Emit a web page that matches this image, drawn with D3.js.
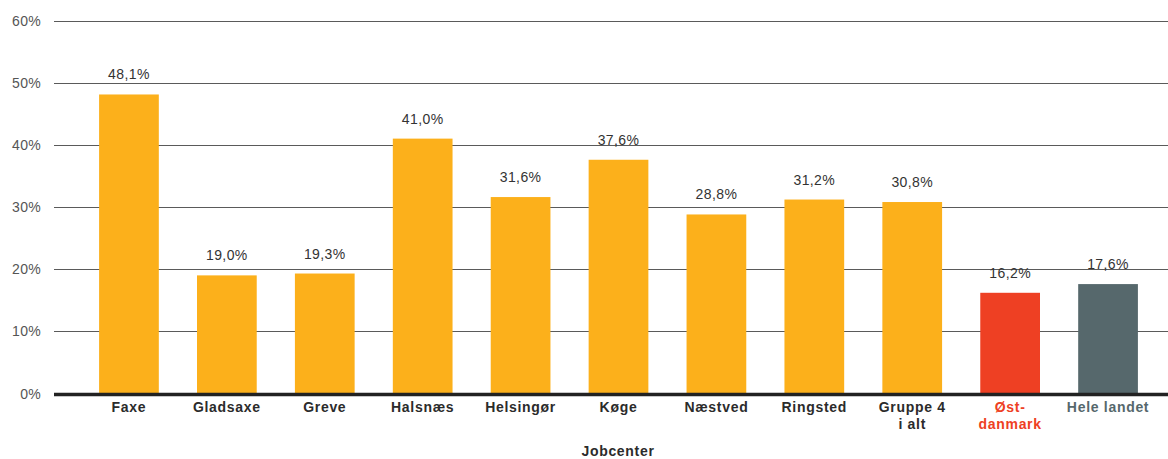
<!DOCTYPE html>
<html lang="da">
<head>
<meta charset="UTF-8">
<script src="https://d3js.org/d3.v7.min.js"></script>
<style>
  body { margin: 0; background: #fff; }
  svg text { font-family: "Liberation Sans", Arial, sans-serif; }
</style>
</head>
<body>
<div id="chart"></div>
<script>
// data
const categories = ["Faxe", "Gladsaxe", "Greve", "Halsnæs", "Helsingør", "Køge", "Næstved", "Ringsted", "Gruppe 4|i alt", "Øst-|danmark", "Hele landet"];
const values = [48.1, 19.0, 19.3, 41.0, 31.6, 37.6, 28.8, 31.2, 30.8, 16.2, 17.6];
const barColors = ["#fcb01b", "#fcb01b", "#fcb01b", "#fcb01b", "#fcb01b", "#fcb01b", "#fcb01b", "#fcb01b", "#fcb01b", "#ee4023", "#56686c"];
const labelColors = ["#2b2b2b", "#2b2b2b", "#2b2b2b", "#2b2b2b", "#2b2b2b", "#2b2b2b", "#2b2b2b", "#2b2b2b", "#2b2b2b", "#ee4023", "#56686c"];
const yTicks = [0, 10, 20, 30, 40, 50, 60];

const W = 1168, H = 459;
const svg = d3.select("#chart").append("svg").attr("width", W).attr("height", H);

const x = d3.scaleBand().domain(categories).range([80, 1157]).paddingInner(0.39).paddingOuter(0.195);
const y = d3.scaleLinear().domain([0, 60]).range([393.5, 20.5]);

// gridlines + tick labels
const grid = svg.append("g");
grid.selectAll("line").data(yTicks.filter(d => d > 0)).join("line")
  .attr("x1", 54).attr("x2", W)
  .attr("y1", d => Math.round(y(d)) + 0.5).attr("y2", d => Math.round(y(d)) + 0.5)
  .attr("stroke", "#5a5a5a").attr("stroke-width", 1);
grid.selectAll("text").data(yTicks).join("text")
  .attr("x", 41).attr("y", d => y(d) + 5)
  .attr("text-anchor", "end")
  .attr("font-size", 14).attr("fill", "#555")
  .attr("letter-spacing", 0.3)
  .text(d => d + "%");

// bars
svg.append("g").selectAll("rect").data(values).join("rect")
  .attr("x", (d, i) => x(categories[i]))
  .attr("width", x.bandwidth())
  .attr("y", d => y(d))
  .attr("height", d => y(0) - y(d))
  .attr("fill", (d, i) => barColors[i]);

// value labels
svg.append("g").selectAll("text").data(values).join("text")
  .attr("x", (d, i) => x(categories[i]) + x.bandwidth() / 2)
  .attr("y", d => y(d) - 15)
  .attr("text-anchor", "middle")
  .attr("font-size", 14).attr("fill", "#333")
  .attr("letter-spacing", 0.4)
  .text(d => d.toFixed(1).replace(".", ",") + "%");

// baseline
svg.append("line")
  .attr("x1", 54).attr("x2", W)
  .attr("y1", y(0) + 1).attr("y2", y(0) + 1)
  .attr("stroke", "#222").attr("stroke-width", 3.5);

// category labels
const cat = svg.append("g").selectAll("text").data(categories).join("text")
  .attr("x", d => x(d) + x.bandwidth() / 2)
  .attr("y", 412)
  .attr("text-anchor", "middle")
  .attr("font-size", 14).attr("font-weight", "bold")
  .attr("letter-spacing", 0.7)
  .attr("fill", (d, i) => labelColors[i]);
cat.selectAll("tspan").data(d => d.split("|")).join("tspan")
  .attr("x", function() { return d3.select(this.parentNode).attr("x"); })
  .attr("dy", (d, i) => i === 0 ? 0 : 17)
  .text(d => d);

// axis title
svg.append("text")
  .attr("x", 618).attr("y", 456)
  .attr("text-anchor", "middle")
  .attr("font-size", 14).attr("font-weight", "bold").attr("fill", "#2b2b2b")
  .attr("letter-spacing", 0.7)
  .text("Jobcenter");
</script>
</body>
</html>
